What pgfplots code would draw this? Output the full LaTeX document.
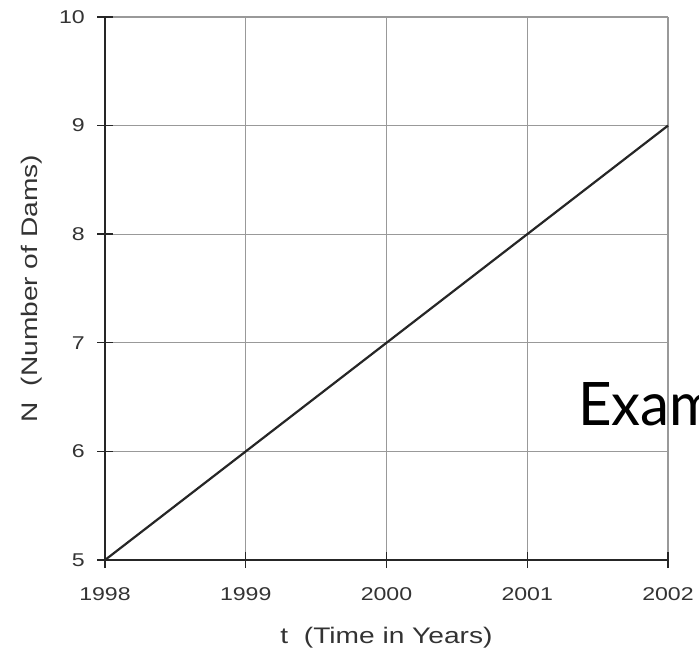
\documentclass[border=0pt]{standalone}
\usepackage{fontspec}
\setmainfont{Liberation Sans}[FakeStretch=1.25]
\newfontfamily\examfont{Lato}[FakeStretch=0.97]
\usepackage{pgfplots}
\pgfplotsset{compat=1.18}
\begin{document}
\begin{tikzpicture}
\begin{axis}[
  name=ax,
  scale only axis,
  width=563bp, height=543bp,
  xmin=1998, xmax=2002, ymin=5, ymax=10,
  xtick={1998,1999,2000,2001,2002},
  ytick={5,6,7,8,9,10},
  axis x line*=bottom, axis y line*=left,
  axis line style={black!85, line width=2.4bp, -},
  grid=major,
  major grid style={black!40, line width=1.3bp},
  tick align=center,
  major tick length=16bp,
  tick style={black!85, line width=1.4bp},
  /pgf/number format/assume math mode=true,
  /pgf/number format/1000 sep={},
  ticklabel style={font=\fontsize{18.5bp}{20bp}\selectfont, text=black!80},
  xticklabel style={inner sep=0pt, anchor=north, yshift=-19bp},
  yticklabel style={inner sep=0pt, anchor=east, xshift=-12bp},
  xlabel={t\ \ (Time in Years)},
  ylabel={N\ \ (Number of Dams)},
  label style={font=\fontsize{22.5bp}{24bp}\selectfont, text=black!80},
  xlabel style={at={(axis description cs:0.5,-0.1436)}, anchor=center, inner sep=0pt},
  ylabel style={at={(axis description cs:-0.1297,0.5)}, anchor=center, inner sep=0pt},
  clip=false,
]
\addplot[black!85, line width=2.2bp] coordinates {(1998,5) (1999,6) (2000,7) (2001,8) (2002,9)};
\node[anchor=base west, inner sep=0pt, font=\examfont\fontsize{60bp}{60bp}\selectfont] at (axis cs:2001.36,6.243) {Example};
\end{axis}
\pgfresetboundingbox
\path[use as bounding box] ([shift={(-105bp,-95bp)}]ax.south west) rectangle ([shift={(31bp,17bp)}]ax.north east);
\end{tikzpicture}
\end{document}
